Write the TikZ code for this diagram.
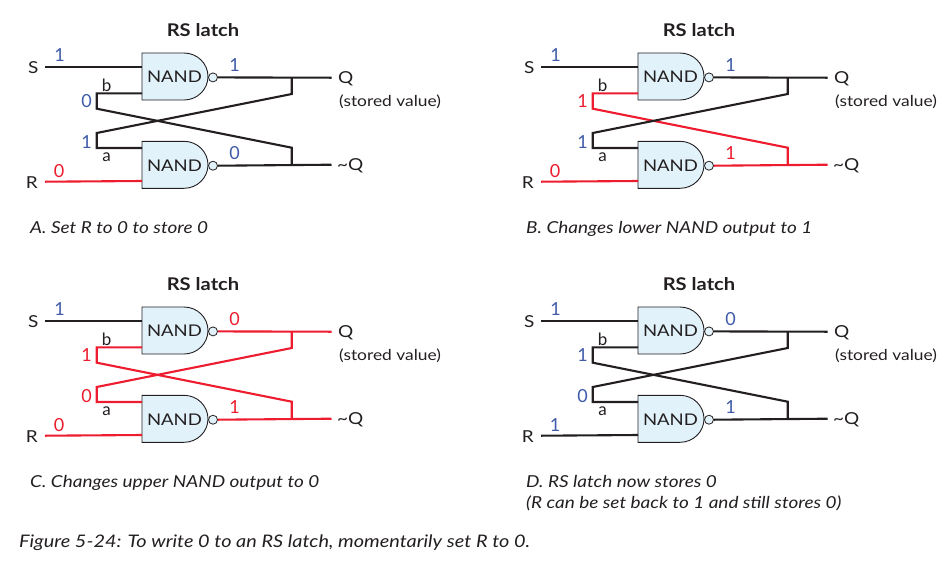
\documentclass[tikz,border=0pt]{standalone}
\usepackage{fontspec}
\setmainfont{Lato}[FakeStretch=1.15]
\newfontfamily\digitfont{Lato}
\usepackage{xcolor}
\usetikzlibrary{positioning, calc}
\definecolor{RSred}{HTML}{ED1C2E}
\definecolor{RSblue}{HTML}{3F5BA9}
\definecolor{RSblack}{HTML}{231F20}
\definecolor{RSfill}{HTML}{E1F2FB}
\tikzset{
  wire/.style={line width=2.1pt, line join=miter},
  hot/.style={draw=RSred, text=RSred},
  idle/.style={draw=RSblack, text=RSblue},
  gatebody/.style={draw=RSblack, fill=RSfill, line width=0.9pt},
  gatelabel/.style={minimum width=65pt, minimum height=47pt, inner sep=0pt, text=RSblack, font=\fontsize{16.1}{18}\selectfont},
  bubble/.style={circle, draw=RSblack, fill=RSfill, line width=0.8pt, minimum size=9pt, inner sep=0pt},
  tag/.style={inner sep=0pt, text=RSblack, font=\fontsize{16.5}{18}\selectfont},
  note/.style={tag, font=\fontsize{15.1}{18}\selectfont},
  val/.style={inner sep=0pt, draw=none, font=\digitfont\fontsize{18}{18}\selectfont},
  pinname/.style={val, text=RSblack, font=\digitfont\fontsize{17}{18}\selectfont},
  capt/.style={anchor=base west, inner sep=0pt, text=RSblack, font=\itshape\fontsize{16.5}{18}\selectfont},
  head/.style={inner sep=0pt, text=RSblack, font=\bfseries\fontsize{17.5}{18}\selectfont}
}

\begin{document}
\begin{tikzpicture}[x=1pt, y=-1pt]
  \useasboundingbox (0,0) rectangle (951,566);
  \foreach \pn/\px/\py/\rst/\rval/\qst/\qval/\nst/\nval/\capline in {
      A/0/0/hot/0/idle/1/idle/0/{A. Set R to 0 to store 0},
      B/496/0/hot/0/idle/1/hot/1/{B. Changes lower NAND output to 1},
      C/0/254/hot/0/hot/0/hot/1/{C. Changes upper NAND output to 0},
      D/496/254/idle/1/idle/0/idle/1/{D. RS latch now stores 0}}{
    \begin{scope}[shift={(\px,\py)}]
      \node[head] (title\pn) at (203,30) {RS latch};
      \foreach \g/\gy in {gu/53,gl/141.3}{
        \draw[gatebody] (142,\gy) -- ++(42,0) arc[start angle=-90, end angle=90, x radius=24, y radius=23.5] -- ++(-42,0) -- cycle;
        \node[gatelabel] (\g\pn) at (174.5,\gy+24.2) {NAND};
        \node[bubble] (\g b\pn) at (213,\gy+24.4) {};
      }
      \node[tag, anchor=east] (s\pn) at (38.5,67.5) {S};
      \node[tag, anchor=east] (r\pn) at (38,183) {R};
      \node[tag, anchor=west] (q\pn) at (338,78.5) {Q};
      \node[tag, anchor=west] (nq\pn) at (337,165.5) {\textasciitilde Q};
      \node[note, anchor=west] (st\pn) at (339,101.5) {(stored value)};
      \coordinate (sa\pn) at (45,66.7);
      \coordinate (ra\pn) at (45,181.7);
      \coordinate (ib\pn) at (142,93.3);
      \coordinate (ia\pn) at (142,148);
      \coordinate (qe\pn) at (331.5,77.7);
      \coordinate (ne\pn) at (331.5,164.7);
      % feedback
      \draw[wire,\nst] (ib\pn) -| (96.7,108.7) -- (291.7,147.7) -- (291.7,164.7);
      \draw[wire,\qst] (291.7,77.7) -- (291.7,94) -- (96.7,133) |- (ia\pn);
      \draw[wire,\qst] (gub\pn.east) -- (qe\pn);
      \draw[wire,\nst] (glb\pn.east) -- (ne\pn);
      \draw[wire,idle] (sa\pn) -- (gu\pn.west |- sa\pn);
      \draw[wire,\rst] (ra\pn) -- (142,181);
      \node[val, text=RSblue] (vs\pn) at (59.5,55) {1};
      \node[pinname] (lb\pn) at (106.7,85) {b};
      \node[pinname] (la\pn) at (106.7,156.7) {a};
      \node[\rst,val] (vr\pn) at (59,171.5) {\rval};
      \node[\qst,val] (vq\pn) at (234.5,65) {\qval};
      \node[\qst,val] (va\pn) at (86.5,142) {\qval};
      \node[\nst,val] (vn\pn) at (234.5,153) {\nval};
      \node[\nst,val] (vb\pn) at (86.5,101) {\nval};
      \node[capt] (cap\pn) at (30,233) {\capline};
    \end{scope}
  }
  \node[capt] (capE) at (526,508.5) {(R can be set back to 1 and still stores 0)};
  \node[capt, font=\itshape\fontsize{17.3}{18}\selectfont] (fig) at (19,547) {Figure 5-24: To write 0 to an RS latch, momentarily set R to 0.};
\end{tikzpicture}
\end{document}
